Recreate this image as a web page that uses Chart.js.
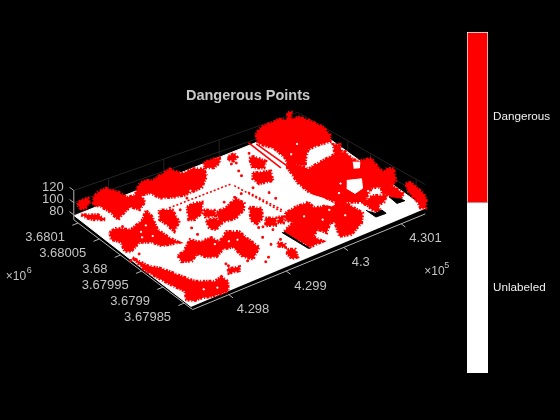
<!DOCTYPE html>
<html>
<head>
<meta charset="utf-8">
<script src="https://cdn.jsdelivr.net/npm/chart.js@4"></script>
<style>
html, body { margin: 0; background: #000; }
#cloud { position: absolute; left: 0; top: 0; }
#bar { position: absolute; left: 460px; top: 20px; }
</style>
</head>
<body>
<canvas id="cloud" width="560" height="420"></canvas>
<canvas id="bar" width="100" height="365"></canvas>
<script>
// axis ticks, real map coordinates
var eastMin = 429737, eastMax = 430142;
var northMin = 3679830, northMax = 3680110;
var zMin = 72, zMax = 120;
var eastTicks = [429800, 429900, 430000, 430100];
var eastTickLabels = ['4.298', '4.299', '4.3', '4.301'];
var northTicks = [3679850, 3679900, 3679950, 3680000, 3680050, 3680100];
var northTickLabels = ['3.67985', '3.6799', '3.67995', '3.68', '3.68005', '3.6801'];
var zTicks = [80, 100, 120];
var classNames = ['Unlabeled', 'Dangerous'];
var classCounts = [1, 1];

// ground outline, metres from the axes corner
var groundEast = [0, 4, 405, 411];
var groundNorth = [3, 284, 280, 7];
var groundZ = 75;

// dangerous clusters (east / north in metres from the corner, top height in m)
var treeTop = [101, 101, 101, 101, 75, 75, 75, 75, 75, 75, 75, 75, 75, 75, 75, 75, 75, 75, 75, 75, 75, 75, 101, 101, 75, 75, 101];
var treeEast = [
  [0, 12, 22, 16, 3, -2],
  [28, 42, 57, 65, 68, 79, 102, 113, 121, 136, 158, 164, 183, 196, 189, 166, 148, 135, 122, 104, 99, 86, 80, 63, 57, 43, 24, 26, 24, 18],
  [205, 220, 230, 223, 209, 199],
  [243, 254, 251, 241, 238],
  [13, 32, 33, 19, 14],
  [19, 32, 47, 75, 93, 90, 77, 78, 82, 58, 52, 38, 13, 8, 17, 10],
  [108, 123, 113, 93, 95, 94],
  [7, 12, 24, 33, 42, 64, 79, 79, 65, 42, 25, 11, 5, 16, 10, 6, 2],
  [61, 75, 99, 105, 126, 128, 152, 166, 165, 165, 141, 133, 136, 122, 103, 91, 85, 69, 56],
  [170, 188, 212, 214, 203, 183, 170, 158],
  [214, 226, 213, 195, 197],
  [216, 228, 216, 205],
  [232, 238, 229, 224],
  [144, 157, 168, 152, 134, 127],
  [158, 170, 163, 150],
  [145, 159, 158, 143, 138],
  [98, 114, 108, 92],
  [193, 199, 195, 189],
  [194, 203, 194, 185, 187],
  [246, 266, 288, 286, 294, 320, 329, 333, 317, 288, 272, 288, 281, 263, 258, 242, 246, 223, 216, 240, 236],
  [287, 294, 301, 289, 276],
  [269, 292, 280, 260, 260],
  [306, 323, 345, 355, 364, 375, 379, 367, 380, 387, 393, 389, 379, 364, 343, 327, 315, 299, 304, 306, 295],
  [302, 314, 334, 366, 378, 386, 375, 381, 378, 383, 401, 397, 393, 404, 410, 395, 377, 358, 327, 305, 296, 280, 281, 292],
  [347, 370, 386, 373, 361, 356, 348, 350],
  [392, 407, 408, 393, 389, 384],
  [402, 410, 408, 407, 400, 388, 382, 389, 392]
];
var treeNorth = [
  [272, 278, 276, 265, 257, 261],
  [272, 280, 281, 263, 245, 243, 263, 264, 258, 262, 267, 247, 249, 239, 223, 203, 202, 202, 206, 216, 235, 238, 221, 210, 223, 218, 208, 228, 248, 258],
  [251, 252, 248, 238, 233, 240],
  [244, 245, 235, 230, 236],
  [280, 266, 250, 260, 270],
  [221, 224, 209, 219, 236, 217, 187, 162, 143, 150, 166, 176, 164, 171, 192, 206],
  [225, 214, 185, 169, 189, 205],
  [151, 122, 104, 77, 52, 35, 39, 24, 4, 6, 12, 13, 21, 40, 63, 87, 114],
  [117, 122, 140, 127, 126, 110, 126, 115, 98, 67, 48, 61, 89, 93, 83, 91, 105, 95, 102],
  [173, 175, 185, 168, 155, 145, 146, 151],
  [156, 144, 123, 115, 129],
  [121, 112, 97, 105],
  [112, 108, 96, 100],
  [208, 210, 205, 184, 176, 181],
  [188, 179, 166, 173],
  [164, 163, 146, 138, 148],
  [49, 44, 36, 39],
  [61, 51, 45, 53],
  [39, 33, 15, 16, 30],
  [114, 118, 117, 103, 97, 93, 87, 50, 31, 16, 22, 55, 57, 40, 54, 44, 26, 25, 78, 88, 100],
  [255, 255, 235, 223, 232],
  [222, 211, 190, 195, 210],
  [265, 276, 276, 277, 268, 284, 281, 266, 265, 251, 225, 203, 189, 192, 192, 176, 161, 181, 193, 222, 245],
  [185, 152, 156, 160, 181, 175, 156, 157, 135, 125, 122, 109, 81, 89, 81, 56, 48, 62, 39, 55, 62, 95, 131, 172],
  [70, 77, 66, 54, 54, 36, 48, 62],
  [86, 81, 55, 45, 63, 73],
  [42, 39, 25, 7, -9, -24, -20, -1, 21]
];

// unlabeled pockets left inside the big canopy
var holeEast = [
  [340, 359, 346, 330, 328],
  [374, 382, 373, 366],
  [278, 286, 291, 285, 275, 272]
];
var holeNorth = [
  [97, 88, 68, 64, 81],
  [129, 123, 112, 116],
  [99, 82, 59, 58, 77, 95]
];
var holeTop = 101;

// no return areas under the roofs
var gapEast = [
  [341, 342, 359, 359, 348],
  [387, 386, 399, 396],
  [213, 219, 221, 216]
];
var gapNorth = [
  [53, 31, 30, 40, 39],
  [61, 41, 40, 49],
  [78, 24, 23, 76]
];

// power lines and hedges
var roadEast = [[309, 308], [316, 318]];
var roadNorth = [[287, 209], [278, 207]];
var chainEast = [[122, 229], [229, 244], [235, 247]];
var chainNorth = [[221, 218], [212, 118], [187, 122]];

// single returns
var speckEast = [42, 115, 161, 151, 201, 183, 194, 118, 252, 258, 257, 265, 103, 184,
  262, 258, 294, 256, 247, 225, 212, 193, 157, 132, 109, 132, 152, 103, 200, 207, 20, 107, 1];
var speckNorth = [222, 144, 39, 32, 65, 63, 107, 162, 226, 169, 152, 256, 61, 84,
  270, 258, 265, 238, 192, 190, 188, 187, 226, 208, 200, 49, 80, 55, 105, 91, 153, 104, 147];
var pitEast = [55, 62, 70, 48, 110, 128, 146, 172, 120, 140, 152, 40, 58, 262, 278, 300, 310, 340, 362, 336, 352, 372];
var pitNorth = [196, 178, 205, 184, 226, 232, 226, 238, 110, 104, 100, 28, 20, 92, 70, 84, 60, 228, 244, 110, 128, 90];

var RED = '#ff0000', WHITE = '#ffffff', GRID = '#232323', AXIS = '#b4b4b4', TEXT = '#c4c4c4';
var E = eastMax - eastMin, N = northMax - northMin;

// camera for the 3d view, offsets in metres -> view plane
function viewPoint(e, n, z) {
  return {
    x: 191 + 0.585 * e - 0.432 * n,
    y: 312 - 0.242 * e - 0.3286 * n - (z - zMin) * 0.625
  };
}
// the far corner of the box sits a bit closer in (perspective)
function wallPoint(e, n, z) {
  var p = viewPoint(e, n, z), k = (e / E) * (n / N);
  return { x: p.x - 9 * k, y: p.y + 18 * k };
}
function outline(es, ns, z) {
  return es.map(function (e, i) { return viewPoint(e, ns[i], z); });
}

var datasets = [];
function add(d) {
  d.order = -datasets.length;
  d.pointRadius = d.pointRadius || 0;
  d.showLine = d.showLine !== false;
  datasets.push(d);
}
function shape(pts, color, edge, dash) {
  add({ data: pts, fill: 'shape', backgroundColor: color, borderColor: color, borderWidth: edge, borderDash: dash || [] });
}
function line(pts, color, w, dash) {
  add({ data: pts, borderColor: color, borderWidth: w, borderDash: dash || [] });
}

// back walls grid
zTicks.forEach(function (z) {
  line([wallPoint(0, N, z), wallPoint(E, N, z), wallPoint(E, 0, z)], GRID, 1);
});
eastTicks.forEach(function (v) {
  line([wallPoint(v - eastMin, N, zMin), wallPoint(v - eastMin, N, zMax)], GRID, 1);
});
northTicks.forEach(function (v) {
  line([wallPoint(E, v - northMin, zMin), wallPoint(E, v - northMin, zMax)], GRID, 1);
});

// ground
shape(outline(groundEast, groundNorth, groundZ), WHITE, 1);

// clusters, uneven dashed edge gives the blocky look of the returns
treeEast.forEach(function (es, i) {
  var pts = outline(es, treeNorth[i], treeTop[i]);
  pts.push(pts[0]);
  shape(pts, RED, 3, [1.5, 1, 3, 1.5, 1, 2, 2, 1]);
});
holeEast.forEach(function (es, i) {
  shape(outline(es, holeNorth[i], holeTop), WHITE, 1);
});
gapEast.forEach(function (es, i) {
  shape(outline(es, gapNorth[i], groundZ), '#000000', 1);
});
roadEast.forEach(function (es, i) {
  line(outline(es, roadNorth[i], groundZ), RED, 1.6);
});
chainEast.forEach(function (es, i) {
  line(outline(es, chainNorth[i], groundZ), RED, 1.6, [2, 2]);
});
add({ data: outline(speckEast, speckNorth, groundZ), showLine: false, pointStyle: 'rect', pointRadius: 1.2, backgroundColor: RED, borderColor: RED });
add({ data: outline(pitEast, pitNorth, groundZ), showLine: false, pointStyle: 'rect', pointRadius: 0.8, backgroundColor: WHITE, borderColor: WHITE });

// axes
line([viewPoint(0, N, zMin), viewPoint(0, 0, zMin), viewPoint(E, 0, zMin)], AXIS, 1);
line([viewPoint(0, N, zMin), viewPoint(0, N, zMax)], AXIS, 1);
eastTicks.forEach(function (v) {
  line([viewPoint(v - eastMin, 0, zMin), viewPoint(v - eastMin, -10, zMin)], AXIS, 1);
});
northTicks.forEach(function (v) {
  line([viewPoint(0, v - northMin, zMin), viewPoint(-10, v - northMin, zMin)], AXIS, 1);
});
zTicks.forEach(function (z) {
  line([viewPoint(0, N, z), viewPoint(0, N + 10, z)], AXIS, 1);
});

var axisText = {
  id: 'axisText',
  afterDatasetsDraw: function (chart) {
    var c = chart.ctx, sx = chart.scales.x, sy = chart.scales.y;
    function at(p, dx, dy, s, align) {
      c.textAlign = align;
      c.fillText(s, sx.getPixelForValue(p.x) + dx, sy.getPixelForValue(p.y) + dy);
    }
    c.save();
    c.textBaseline = 'middle';
    c.fillStyle = TEXT;
    c.font = '13px "Liberation Sans"';
    eastTicks.forEach(function (v, i) {
      at(viewPoint(v - eastMin, 0, zMin), 8, 15, eastTickLabels[i], 'left');
    });
    northTicks.forEach(function (v, i) {
      at(viewPoint(0, v - northMin, zMin), -13, 14, northTickLabels[i], 'right');
    });
    zTicks.forEach(function (z) {
      at(viewPoint(0, N, z), -10, -3, String(z), 'right');
    });
    // exponent labels
    c.font = '12px "Liberation Sans"';
    at(viewPoint(E, 0, zMin), -1, 58, '\u00d710', 'left');
    at(viewPoint(0, N, zMin), -68, 57, '\u00d710', 'left');
    c.font = '9px "Liberation Sans"';
    at(viewPoint(E, 0, zMin), 19, 52, '5', 'left');
    at(viewPoint(0, N, zMin), -47, 51, '6', 'left');
    c.font = 'bold 14.5px "Liberation Sans"';
    c.fillStyle = '#c8c8c8';
    c.textAlign = 'center';
    c.fillText('Dangerous Points', 248, 96);
    c.restore();
  }
};

new Chart('cloud', {
  type: 'scatter',
  data: { datasets: datasets },
  options: {
    responsive: false,
    animation: false,
    layout: { padding: 0 },
    plugins: { legend: { display: false }, tooltip: { enabled: false } },
    elements: { line: { tension: 0 } },
    scales: {
      x: { type: 'linear', display: false, min: 0, max: 560 },
      y: { type: 'linear', display: false, min: 0, max: 420, reverse: true }
    }
  },
  plugins: [axisText]
});

new Chart('bar', {
  type: 'bar',
  data: {
    labels: ['classes'],
    datasets: [
      { label: classNames[0], data: [classCounts[0]], backgroundColor: WHITE, borderColor: WHITE, borderWidth: 1 },
      { label: classNames[1], data: [classCounts[1]], backgroundColor: RED, borderColor: WHITE, borderWidth: 1 }
    ]
  },
  options: {
    responsive: false,
    animation: false,
    layout: { padding: { left: 7, top: 11, bottom: 11, right: 0 } },
    plugins: { legend: { display: false }, tooltip: { enabled: false } },
    datasets: { bar: { barPercentage: 1, categoryPercentage: 1 } },
    scales: {
      x: { stacked: true, display: false },
      y: {
        stacked: true,
        position: 'right',
        min: 0,
        max: 2,
        grid: { display: false, drawTicks: false },
        border: { display: false },
        afterBuildTicks: function (s) { s.ticks = [{ value: 0.5 }, { value: 1.5 }]; },
        afterFit: function (s) { s.width = 72; },
        ticks: {
          color: '#f0f0f0',
          padding: 5,
          font: { family: 'Liberation Sans', size: 11.7 },
          callback: function (v) { return classNames[Math.floor(v)]; }
        }
      }
    }
  }
});
</script>
</body>
</html>
